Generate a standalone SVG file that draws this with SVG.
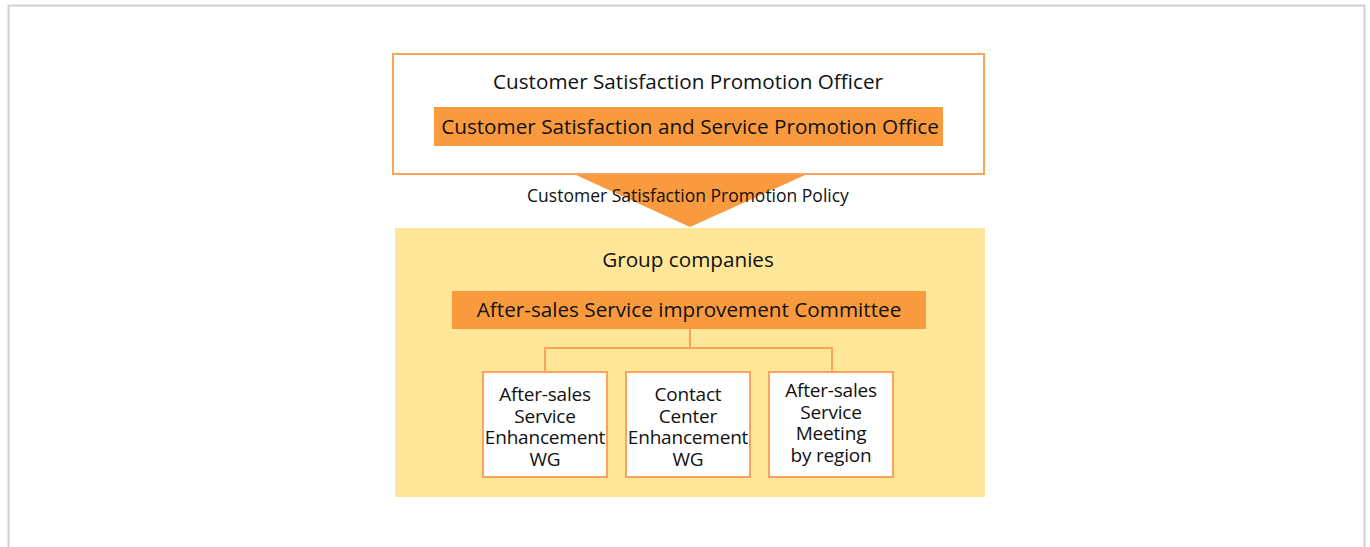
<svg xmlns="http://www.w3.org/2000/svg" width="1370" height="547" viewBox="0 0 1370 547">
<style>
text{font-family:"Open Sans","Noto Sans",sans-serif;fill:#111;text-anchor:middle}
.t20{font-size:20.7px}
.t17{font-size:17.5px}
.t18{font-size:19px;letter-spacing:-0.2px}
.band{fill:#FA9A3E}
.wg{fill:#fff;stroke:#F9A45A;stroke-width:2}
.conn{stroke:#F9A45A;stroke-width:2;fill:none}
</style>
<rect x="8.5" y="5.5" width="1356" height="560" fill="#fff" stroke="#d0d0d0" stroke-width="2"/>
<g id="officer">
<rect x="393" y="54" width="591" height="120" fill="#fff" stroke="#F9A45A" stroke-width="2"/>
<text class="t20" x="688" y="89">Customer Satisfaction Promotion Officer</text>
<rect class="band" x="434" y="107" width="509" height="39"/>
<text class="t20" x="690" y="134">Customer Satisfaction and Service Promotion Office</text>
</g>
<g id="policy">
<polygon class="band" points="576,175 805,175 690,227"/>
<text class="t17" x="688" y="202">Customer Satisfaction Promotion Policy</text>
</g>
<g id="group">
<rect x="395" y="228" width="590" height="269" fill="#FFE699"/>
<text class="t20" x="688" y="267">Group companies</text>
</g>
<g id="committee">
<rect class="band" x="452" y="291" width="474" height="38"/>
<text class="t20" x="689" y="317">After-sales Service improvement Committee</text>
</g>
<g id="connectors">
<path class="conn" d="M690,329V348M545,372V348H832V372"/>
</g>
<g id="wg1">
<rect class="wg" x="483" y="372" width="124" height="105"/>
<text class="t18"><tspan x="545" y="401">After-sales</tspan><tspan x="545" y="423">Service</tspan><tspan x="545" y="444">Enhancement</tspan><tspan x="545" y="466">WG</tspan></text>
</g>
<g id="wg2">
<rect class="wg" x="626" y="372" width="124" height="105"/>
<text class="t18"><tspan x="688" y="401">Contact</tspan><tspan x="688" y="423">Center</tspan><tspan x="688" y="444">Enhancement</tspan><tspan x="688" y="466">WG</tspan></text>
</g>
<g id="wg3">
<rect class="wg" x="769" y="372" width="124" height="105"/>
<text class="t18"><tspan x="831" y="397">After-sales</tspan><tspan x="831" y="419">Service</tspan><tspan x="831" y="440">Meeting</tspan><tspan x="831" y="462">by region</tspan></text>
</g>
</svg>
